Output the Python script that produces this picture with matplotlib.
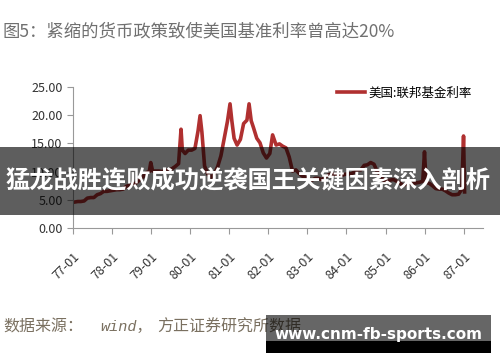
import matplotlib
matplotlib.use("Agg")
import matplotlib.pyplot as plt
from matplotlib.patches import Rectangle
import pandas as pd

plt.rcParams['font.family'] = ['Noto Sans CJK SC', 'DejaVu Sans']

# 美国联邦基金利率
dates = [
    "1977-01-15", "1977-02-15", "1977-03-15", "1977-04-15", "1977-05-15", "1977-06-15",
    "1977-07-15", "1977-08-15", "1977-09-15", "1977-10-15", "1977-11-15", "1977-12-15",
    "1978-01-15", "1978-02-15", "1978-03-15", "1978-04-15", "1978-05-15", "1978-06-15",
    "1978-07-15", "1978-08-15", "1978-09-15", "1978-10-15", "1978-11-15", "1978-12-15",
    "1978-12-29",
    "1979-01-15", "1979-02-15", "1979-03-15", "1979-04-15", "1979-05-15", "1979-06-15",
    "1979-07-15", "1979-08-15", "1979-09-15", "1979-10-08", "1979-10-20", "1979-11-15",
    "1979-12-15",
    "1980-01-15", "1980-02-15", "1980-03-15", "1980-04-03", "1980-04-20", "1980-05-15",
    "1980-06-15", "1980-07-15", "1980-08-15", "1980-09-15", "1980-10-15", "1980-11-15",
    "1980-12-15",
    "1981-01-08", "1981-01-25", "1981-02-15", "1981-03-15", "1981-04-15", "1981-05-15",
    "1981-06-15", "1981-07-05", "1981-07-25", "1981-08-15", "1981-09-15", "1981-10-15",
    "1981-11-15", "1981-12-15",
    "1982-01-15", "1982-02-10", "1982-03-15", "1982-04-15", "1982-05-15", "1982-06-15",
    "1982-07-15", "1982-08-15", "1982-09-15", "1982-10-15", "1982-11-15", "1982-12-15",
    "1983-01-15", "1983-02-15", "1983-03-15", "1983-04-15", "1983-05-15", "1983-06-15",
    "1983-07-15", "1983-08-15", "1983-09-15", "1983-10-15", "1983-11-15", "1983-12-15",
    "1984-01-15", "1984-02-15", "1984-03-15", "1984-04-15", "1984-05-15", "1984-06-15",
    "1984-07-15", "1984-08-15", "1984-09-15", "1984-10-15", "1984-11-15", "1984-12-15",
    "1985-01-15", "1985-02-15", "1985-03-15", "1985-04-15", "1985-05-15", "1985-06-15",
    "1985-07-15", "1985-08-15", "1985-09-15", "1985-10-15", "1985-11-15", "1985-12-15",
    "1985-12-31",
    "1986-01-15", "1986-02-15", "1986-03-15", "1986-04-15", "1986-05-15", "1986-06-15",
    "1986-07-15", "1986-08-15", "1986-09-15", "1986-10-15", "1986-11-15", "1986-12-15",
    "1986-12-31",
    "1987-01-10",
]
rates = [
    4.6, 4.7, 4.7, 4.8, 5.3, 5.4, 5.4, 5.9, 6.1, 6.5, 6.5, 6.6,
    6.7, 6.8, 6.8, 6.9, 7.4, 7.6, 7.8, 8.0, 8.5, 9.0, 9.8, 10.0,
    11.6,
    10.1, 10.1, 10.1, 10.0, 10.2, 10.3, 10.5, 10.9, 11.4, 17.5, 13.8, 13.2,
    13.8,
    13.8, 14.1, 17.2, 19.9, 17.0, 11.0, 9.5, 9.0, 9.6, 10.9, 12.8, 15.9,
    18.9,
    22.0, 19.0, 15.9, 14.7, 15.7, 18.5, 19.1, 22.0, 19.0, 17.8, 15.9, 15.1,
    13.3, 12.4,
    13.2, 16.5, 14.7, 14.9, 14.5, 14.2, 12.6, 10.1, 10.3, 9.7, 9.2, 9.0,
    8.7, 8.5, 8.8, 8.8, 8.6, 9.0, 9.4, 9.6, 9.5, 9.5, 9.3, 9.5,
    9.6, 9.6, 9.9, 10.3, 10.3, 11.1, 11.2, 11.6, 11.3, 10.0, 9.4, 8.4,
    8.4, 8.5, 8.6, 8.3, 8.0, 7.5, 7.9, 7.9, 7.9, 8.0, 8.1, 8.3,
    13.5,
    8.1, 7.9, 7.5, 7.0, 6.9, 6.9, 6.6, 6.2, 5.9, 5.9, 6.0, 6.9,
    16.3,
    6.4,
]
tick_dates = ["1977-01-01", "1978-01-01", "1979-01-01", "1980-01-01", "1981-01-01",
              "1982-01-01", "1983-01-01", "1984-01-01", "1985-01-01", "1986-01-01",
              "1987-01-01"]
tick_labels = ["77-01", "78-01", "79-01", "80-01", "81-01", "82-01",
               "83-01", "84-01", "85-01", "86-01", "87-01"]

fig = plt.figure(figsize=(5, 3.62), dpi=100)
ax = fig.add_axes([0.146, 0.370, 0.820, 0.390])

ax.plot(pd.to_datetime(dates), rates, color="#b03030", linewidth=2.6,
        label="美国:联邦基金利率")

ax.set_ylim(0, 25)
ax.set_yticks([0, 5, 10, 15, 20, 25])
ax.set_yticklabels(["%.2f" % v for v in [0, 5, 10, 15, 20, 25]])
ax.set_xlim(pd.Timestamp("1977-01-01"), pd.Timestamp("1987-07-01"))
ax.set_xticks(pd.to_datetime(tick_dates))
ax.set_xticklabels(tick_labels, rotation=45, ha="right", rotation_mode="anchor")

for s in ["top", "right"]:
    ax.spines[s].set_visible(False)
for s in ["left", "bottom"]:
    ax.spines[s].set_color("#999999")
    ax.spines[s].set_linewidth(0.8)
ax.tick_params(axis="both", colors="#999999", labelcolor="#333333",
               labelsize=9, length=4, width=0.8, direction="out")
ax.tick_params(axis="x", pad=12)

ax.legend(loc="upper right", bbox_to_anchor=(1.0, 1.08), frameon=False,
          fontsize=9, handlelength=2.2, handletextpad=0.3)

fig.text(0.006, 0.912, "图5：紧缩的货币政策致使美国基准利率曾高达20%",
         fontsize=12.5, color="#707070", va="center", ha="left")

src_color = "#7a7060"
fig.text(0.006, 0.097, "数据来源：", fontsize=11.5, color=src_color,
         va="center", ha="left")
fig.text(0.2, 0.097, "wind，", fontsize=11, color=src_color, va="center",
         ha="left", style="italic", family=["Liberation Mono", "Noto Sans CJK SC"])
fig.text(0.314, 0.097, "方正证券研究所数据", fontsize=11.5, color=src_color,
         va="center", ha="left")

# 水印横幅
fig.patches.append(Rectangle((0, 1 - 215 / 362), 1, 68 / 362, transform=fig.transFigure,
                             facecolor="black", alpha=0.63, zorder=5))
fig.text(0.497, 1 - 181 / 362, "猛龙战胜连败成功逆袭国王关键因素深入剖析",
         fontsize=17.5, fontweight="bold", color="white", ha="center", va="center",
         zorder=6)

fig.patches.append(Rectangle((266 / 500, 1 - 341 / 362), 225 / 500, 26 / 362,
                             transform=fig.transFigure, facecolor="black", alpha=0.6,
                             zorder=5))
fig.patches.append(Rectangle((266 / 500, 1 - 353 / 362), 225 / 500, 12 / 362,
                             transform=fig.transFigure, facecolor="black", zorder=5))
fig.text(378 / 500, 1 - 335 / 362, "www.cnm-fb-sports.com", fontsize=11,
         fontweight="bold", color="white", ha="center", va="center", zorder=6,
         family="DejaVu Sans")

fig.savefig("out.png", dpi=100)
